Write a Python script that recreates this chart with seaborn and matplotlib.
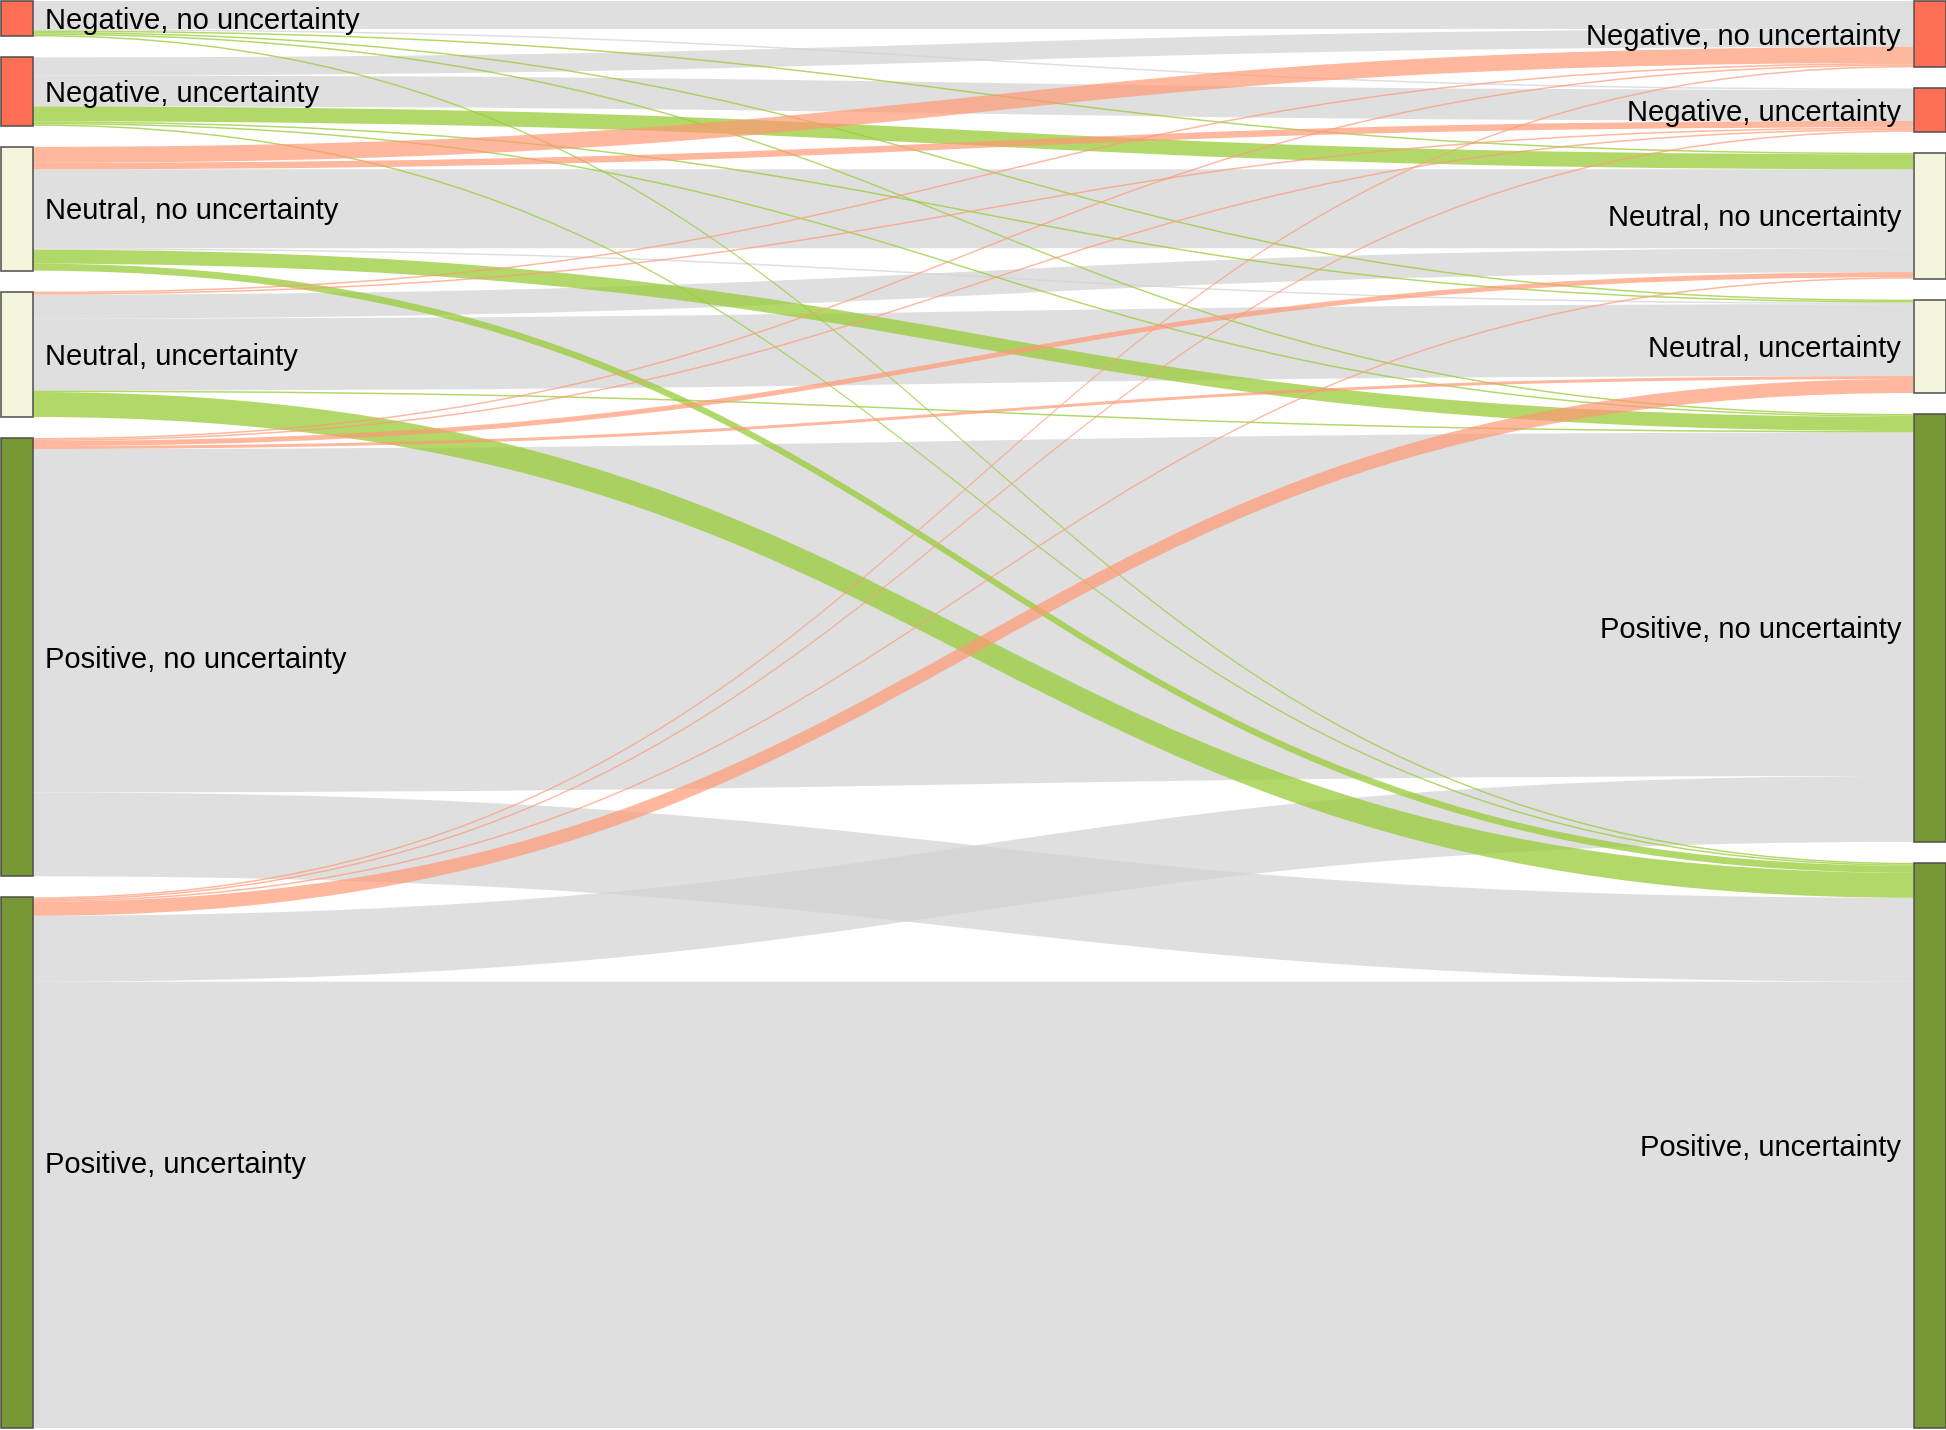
import numpy as np
import matplotlib
matplotlib.use("Agg")
import matplotlib.pyplot as plt
from matplotlib.path import Path
from matplotlib.patches import PathPatch, Rectangle
import seaborn as sns

sns.set_style("white")
plt.rcParams['font.family'] = ['Liberation Sans', 'DejaVu Sans']

# ---- data ----
nodes = ["Negative, no uncertainty", "Negative, uncertainty",
         "Neutral, no uncertainty", "Neutral, uncertainty",
         "Positive, no uncertainty", "Positive, uncertainty"]
sentiment = [0, 0, 1, 1, 2, 2]  # 0 negative, 1 neutral, 2 positive

# flows from each source node (rows) to each target node (columns, same order as nodes)
from_neg_no = [28, 1.5, 1.5, 1.5, 1.5, 1.5]
from_neg_unc = [18, 31, 15, 1.5, 1.5, 1.5]
from_neu_no = [16, 6.5, 79, 1.5, 14, 7]
from_neu_unc = [1.5, 1.5, 24, 72, 1.5, 25]
from_pos_no = [1.5, 1.5, 5, 3, 344, 84]
from_pos_unc = [1.5, 1.5, 1.5, 14, 66, 447]

flows = np.array([from_neg_no, from_neg_unc, from_neu_no,
                  from_neu_unc, from_pos_no, from_pos_unc], dtype=float)

# ---- style ----
W, H = 1946, 1430
node_w = 33
pad = 21
top, bottom = 1, 1428
node_colors = [(1.0, 0.39, 0.28), (1.0, 0.39, 0.28),
               (0.96, 0.96, 0.86), (0.96, 0.96, 0.86),
               (0.42, 0.56, 0.14), (0.42, 0.56, 0.14)]
col_same = (0.827, 0.827, 0.827, 0.72)
col_up = (0.60, 0.80, 0.22, 0.75)
col_down = (1.0, 0.60, 0.46, 0.70)

fig = plt.figure(figsize=(W / 100, H / 100), dpi=100)
ax = fig.add_axes([0, 0, 1, 1])
ax.set_xlim(0, W)
ax.set_ylim(H, 0)
ax.axis('off')

src_tot = flows.sum(axis=1)
tgt_tot = flows.sum(axis=0)
total = src_tot.sum()
k = (bottom - top - pad * (len(nodes) - 1)) / total


def stack(tots):
    ys = []
    y = top
    for t in tots:
        ys.append(y)
        y += t * k + pad
    return ys


src_y = stack(src_tot)
tgt_y = stack(tgt_tot)

# link offsets: outgoing ordered by target, incoming ordered by source
src_off = np.zeros_like(flows)
for i in range(6):
    acc = 0
    for j in range(6):
        src_off[i, j] = src_y[i] + acc
        acc += flows[i, j] * k
tgt_off = np.zeros_like(flows)
for j in range(6):
    acc = 0
    for i in range(6):
        tgt_off[i, j] = tgt_y[j] + acc
        acc += flows[i, j] * k

x0, x1 = node_w, W - node_w
xm = (x0 + x1) / 2


def band(ya, yb, h, color):
    verts = [(x0, ya), (xm, ya), (xm, yb), (x1, yb),
             (x1, yb + h), (xm, yb + h), (xm, ya + h), (x0, ya + h), (x0, ya)]
    codes = [Path.MOVETO, Path.CURVE4, Path.CURVE4, Path.CURVE4,
             Path.LINETO, Path.CURVE4, Path.CURVE4, Path.CURVE4, Path.CLOSEPOLY]
    ax.add_patch(PathPatch(Path(verts, codes), facecolor=color, edgecolor='none', lw=0))


order = []
for i in range(6):
    for j in range(6):
        if flows[i, j] > 0:
            order.append((0 if sentiment[i] == sentiment[j] else 1, i, j))
order.sort()
for grp, i, j in order:
    if sentiment[j] > sentiment[i]:
        c = col_up
    elif sentiment[j] < sentiment[i]:
        c = col_down
    else:
        c = col_same
    band(src_off[i, j], tgt_off[i, j], flows[i, j] * k, c)

fs = 21
cap_half = 0.358 * fs * 100 / 72
for n in range(6):
    h1 = src_tot[n] * k
    ax.add_patch(Rectangle((0.5, src_y[n]), node_w - 1, h1, facecolor=node_colors[n],
                           edgecolor=(0.3, 0.3, 0.3, 0.55), lw=1.2, alpha=0.92))
    ax.text(45, src_y[n] + h1 / 2 + cap_half, nodes[n], fontsize=fs,
            ha='left', va='baseline', color='black')
    h2 = tgt_tot[n] * k
    ax.add_patch(Rectangle((W - node_w + 0.5, tgt_y[n]), node_w - 1, h2, facecolor=node_colors[n],
                           edgecolor=(0.3, 0.3, 0.3, 0.55), lw=1.2, alpha=0.92))
    ax.text(W - 45, tgt_y[n] + h2 / 2 + cap_half, nodes[n], fontsize=fs,
            ha='right', va='baseline', color='black')

fig.savefig("out.png", dpi=100)
